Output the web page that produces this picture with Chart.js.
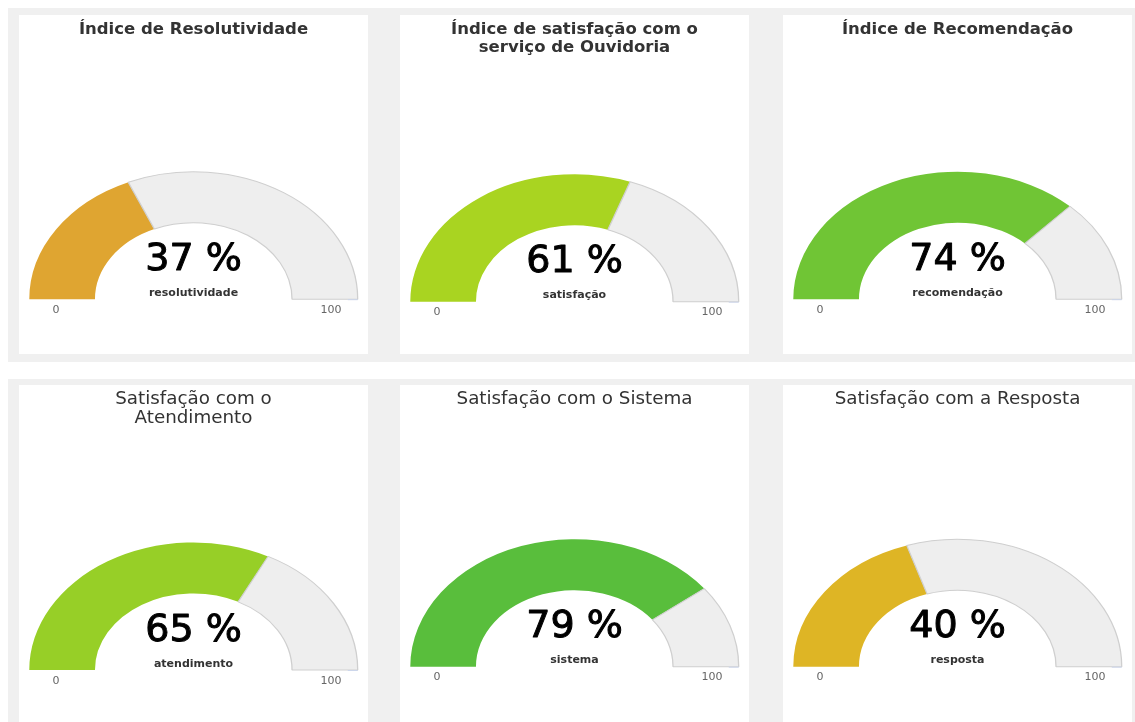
<!DOCTYPE html>
<html>
<head>
<meta charset="utf-8">
<script src="https://cdn.jsdelivr.net/npm/chart.js@4.4.1/dist/chart.umd.min.js"></script>
<style>
  html, body { margin: 0; padding: 0; background: #ffffff; width: 1135px; height: 722px; overflow: hidden; }
  .row { position: absolute; left: 8px; width: 1127px; background: #f0f0f0; }
  .card { position: absolute; width: 349px; height: 339px; background: #ffffff; }
  .card canvas { display: block; }
</style>
</head>
<body>
<div class="row" style="top:8px;height:354px"></div>
<div class="row" style="top:379px;height:343px"></div>
<div id="cards"></div>
<script>
// ---------- data ----------
const titles = [
  ["Índice de Resolutividade"],
  ["Índice de satisfação com o", "serviço de Ouvidoria"],
  ["Índice de Recomendação"],
  ["Satisfação com o", "Atendimento"],
  ["Satisfação com o Sistema"],
  ["Satisfação com a Resposta"]
];
const values = [37, 61, 74, 65, 79, 40];
const seriesLabels = ["resolutividade", "satisfação", "recomendação", "atendimento", "sistema", "resposta"];
const axisMin = 0;
const axisMax = 100;
const tickLabels = ["0", "100"];

// ---------- styles / layout ----------
const valueColors = ["#DFA531", "#A9D421", "#70C535", "#97CF27", "#59BE3C", "#DEB525"];
const trackColor = "#eeeeee";
const trackBorder = "#cfcfcf";
const titleBold = [true, true, true, false, false, false];
const cardLeft = [19, 400, 783, 19, 400, 783];
const cardTop = [15, 15, 15, 385, 385, 385];
const gaugeCenterY = [284.2, 286.7, 284.2, 285.0, 281.7, 281.7];
const CARD_W = 349, CARD_H = 339;
const RADIUS = 127.5;      // vertical outer radius
const STRETCH = 1.288;     // horizontal stretch of the gauge
const FONT = "'DejaVu Sans', 'Liberation Sans', sans-serif";

function makeDecor(i) {
  return {
    id: 'gaugeDecor' + i,
    beforeDatasetsDraw(chart) {
      const arc = chart.getDatasetMeta(0).data[0];
      const ctx = chart.ctx;
      ctx.save();
      ctx.translate(arc.x, 0);
      ctx.scale(STRETCH, 1);
      ctx.translate(-arc.x, 0);
    },
    afterDatasetsDraw(chart) {
      chart.ctx.restore();
    },
    afterDraw(chart) {
      const arc = chart.getDatasetMeta(0).data[0];
      const ctx = chart.ctx;
      const cx = arc.x, cy = arc.y;
      const outerH = arc.outerRadius * STRETCH;
      const midH = (arc.outerRadius + arc.innerRadius) / 2 * STRETCH;
      ctx.save();
      // tick at axis max
      ctx.strokeStyle = '#ccd6eb';
      ctx.lineWidth = 1;
      ctx.beginPath();
      ctx.moveTo(cx + outerH - 10, cy + 0.5);
      ctx.lineTo(cx + outerH, cy + 0.5);
      ctx.stroke();
      ctx.textAlign = 'center';
      ctx.textBaseline = 'alphabetic';
      // value
      ctx.fillStyle = '#000000';
      ctx.strokeStyle = '#000000';
      ctx.lineWidth = 1;
      ctx.lineJoin = 'round';
      ctx.font = 'normal 38px ' + FONT;
      ctx.fillText(values[i] + ' %', cx, cy - 29.3);
      ctx.strokeText(values[i] + ' %', cx, cy - 29.3);
      // series label
      ctx.fillStyle = '#333333';
      ctx.font = 'bold 11px ' + FONT;
      ctx.fillText(seriesLabels[i], cx, cy - 3.5);
      // axis labels
      ctx.fillStyle = '#666666';
      ctx.font = 'normal 11px ' + FONT;
      ctx.fillText(tickLabels[0], cx - midH - 6, cy + 13.5);
      ctx.fillText(tickLabels[1], cx + midH + 6, cy + 13.5);
      ctx.restore();
    }
  };
}

const container = document.getElementById('cards');
for (let i = 0; i < values.length; i++) {
  const card = document.createElement('div');
  card.className = 'card';
  card.style.left = cardLeft[i] + 'px';
  card.style.top = cardTop[i] + 'px';
  const canvas = document.createElement('canvas');
  canvas.width = CARD_W;
  canvas.height = CARD_H;
  card.appendChild(canvas);
  container.appendChild(card);

  const lineH = 18.3;
  const titleSize = titleBold[i] ? 16.5 : 18.3;
  const titlePadTop = 5.5;
  const areaTop = gaugeCenterY[i] - RADIUS - 0.5;
  const titlePadBottom = areaTop - titles[i].length * lineH - titlePadTop;
  const areaBottom = areaTop + RADIUS + 1;

  new Chart(canvas, {
    type: 'doughnut',
    data: {
      labels: [seriesLabels[i], ''],
      datasets: [{
        data: [values[i] - axisMin, axisMax - values[i]],
        backgroundColor: [valueColors[i], trackColor],
        borderColor: ['rgba(0,0,0,0)', trackBorder],
        borderWidth: [0, 1],
        clip: false
      }]
    },
    options: {
      responsive: false,
      devicePixelRatio: 1,
      animation: false,
      rotation: -90,
      circumference: 180,
      cutout: '60%',
      layout: { padding: { top: 0, bottom: CARD_H - areaBottom, left: 10, right: 10 } },
      plugins: {
        legend: { display: false },
        tooltip: { enabled: false },
        title: {
          display: true,
          text: titles[i],
          color: '#333333',
          font: { family: FONT, size: titleSize, weight: titleBold[i] ? 'bold' : 'normal', lineHeight: lineH / titleSize },
          padding: { top: titlePadTop, bottom: titlePadBottom }
        }
      }
    },
    plugins: [makeDecor(i)]
  });
}
</script>
</body>
</html>
